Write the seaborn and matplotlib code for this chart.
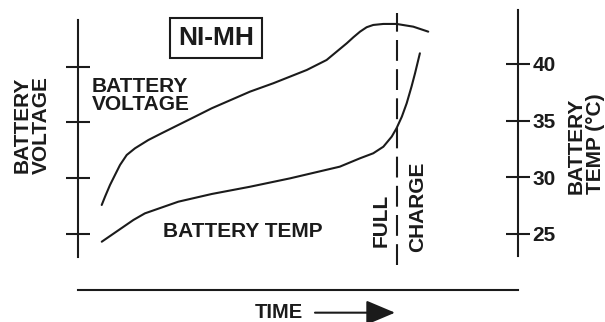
import matplotlib
matplotlib.use("Agg")
import matplotlib.pyplot as plt
import pandas as pd
import seaborn as sns

# Charge profile of a NiMH cell (time in % of run, y in degC-equivalent units)
voltage_time = [5.39, 6.14, 7.27, 8.41, 9.55, 11.07, 12.95, 15.98, 19.02, 22.80,
                26.59, 30.39, 39.1, 44.4, 52.0, 56.5, 61.1, 62.6, 64.1, 65.6,
                67.1, 69.4, 72.4, 76.2, 79.6]
voltage_level = [27.56, 28.29, 29.32, 30.21, 31.09, 31.97, 32.56, 33.29, 33.89,
                 34.62, 35.35, 36.09, 37.56, 38.30, 39.47, 40.35, 41.83, 42.36,
                 42.85, 43.24, 43.44, 43.53, 43.53, 43.29, 42.85]

temp_time = [5.4, 12.6, 15.2, 22.8, 30.4, 39.1, 48.2, 59.5, 64.1, 67.1, 69.4,
             71.3, 72.4, 73.6, 74.7, 75.8, 76.6, 77.7]
temp_level = [24.32, 26.24, 26.82, 27.85, 28.53, 29.17, 29.91, 30.94, 31.68,
              32.12, 32.70, 33.59, 34.33, 35.35, 36.53, 38.0, 39.18, 40.94]

full_charge_time = 72.6
voltage_ticks = [25.0, 29.9, 34.9, 39.7]
temp_ticks = [25, 30, 35, 40]
temp_tick_labels = ["25", "30", "35", "40"]

sns.set_theme(style="white")
plt.rcParams["font.family"] = ["Liberation Sans", "DejaVu Sans"]

INK = "#1b1b1b"
LW = 1.5

fig = plt.figure(figsize=(6.05, 3.22), dpi=100)
ax = fig.add_axes([78 / 605, 1 - 290 / 322, 440 / 605, 280 / 322])
ax2 = ax.twinx()

ylo, yhi = 20.06, 44.76
ax.set_xlim(0, 100)
ax.set_ylim(ylo, yhi)
ax2.set_ylim(ylo, yhi)

df_v = pd.DataFrame({"time": voltage_time, "value": voltage_level})
df_t = pd.DataFrame({"time": temp_time, "value": temp_level})
sns.lineplot(data=df_v, x="time", y="value", ax=ax, color=INK, lw=LW,
             estimator=None, sort=False)
sns.lineplot(data=df_t, x="time", y="value", ax=ax2, color=INK, lw=LW,
             estimator=None, sort=False)
for line in ax.lines + ax2.lines:
    line.set_solid_joinstyle("round")
    line.set_solid_capstyle("round")

# full-charge marker
ax.axvline(full_charge_time, ymin=0.089, ymax=0.989, color=INK, lw=LW,
           ls=(0, (10, 4)))

# spines
for s in list(ax.spines.values()) + list(ax2.spines.values()):
    s.set_color(INK)
    s.set_linewidth(LW)
ax.spines["top"].set_visible(False)
ax.spines["right"].set_visible(False)
ax.spines["left"].set_bounds(22.97, 43.88)
ax2.spines["top"].set_visible(False)
ax2.spines["left"].set_visible(False)
ax2.spines["bottom"].set_visible(False)
ax2.spines["right"].set_bounds(23.06, yhi)

ax.set_xticks([])
ax.set_xlabel("")
ax.set_yticks(voltage_ticks)
ax.tick_params(axis="y", direction="inout", length=17, width=LW, color=INK,
               labelleft=False, left=True)
ax2.set_yticks(temp_ticks)
ax2.set_yticklabels(temp_tick_labels)
ax2.tick_params(axis="y", direction="inout", length=17, width=LW, color=INK,
                pad=2, labelsize=15, labelcolor=INK, right=True)
for lab in ax2.get_yticklabels():
    lab.set_fontweight("bold")

ax.set_ylabel("BATTERY\nVOLTAGE", fontsize=15, fontweight="bold", color=INK,
              linespacing=1.0, ha="center", va="center")
ax.yaxis.set_label_coords(-0.1057, 0.589)
ax2.set_ylabel("BATTERY\nTEMP (°C)", fontsize=15, fontweight="bold", color=INK,
               linespacing=1.0, ha="center", va="center", rotation=90,
               multialignment="left")
ax2.yaxis.set_label_coords(1.1545, 0.523)

# annotations
ax.text(0.3136, 0.899, "NI-MH", transform=ax.transAxes, fontsize=19,
        fontweight="bold", color=INK, ha="center", va="center",
        bbox=dict(boxstyle="square,pad=0.3", fc="white", ec=INK, lw=LW))
ax.text(3.18, 35.94, "BATTERY\nVOLTAGE", fontsize=15, fontweight="bold",
        color=INK, ha="left", va="baseline", linespacing=0.95)
ax.text(19.3, 24.74, "BATTERY TEMP", fontsize=15, fontweight="bold",
        color=INK, ha="left", va="baseline")
ax.text(70.2, 23.85, "FULL", fontsize=15, fontweight="bold", color=INK,
        rotation=90, rotation_mode="anchor", ha="left", va="baseline")
ax.text(78.4, 23.41, "CHARGE", fontsize=15, fontweight="bold", color=INK,
        rotation=90, rotation_mode="anchor", ha="left", va="baseline")

ax.text(0.402, -0.100, "TIME", transform=ax.transAxes, fontsize=14.5,
        fontweight="bold", color=INK, ha="left", va="baseline")
ax.annotate("", xy=(0.7205, -0.081), xytext=(0.5386, -0.081),
            xycoords="axes fraction", textcoords="axes fraction",
            annotation_clip=False,
            arrowprops=dict(arrowstyle="-|>,head_length=0.9,head_width=0.38",
                            mutation_scale=20, color=INK, lw=LW,
                            shrinkA=0, shrinkB=0))

fig.savefig("out.png", dpi=100)
